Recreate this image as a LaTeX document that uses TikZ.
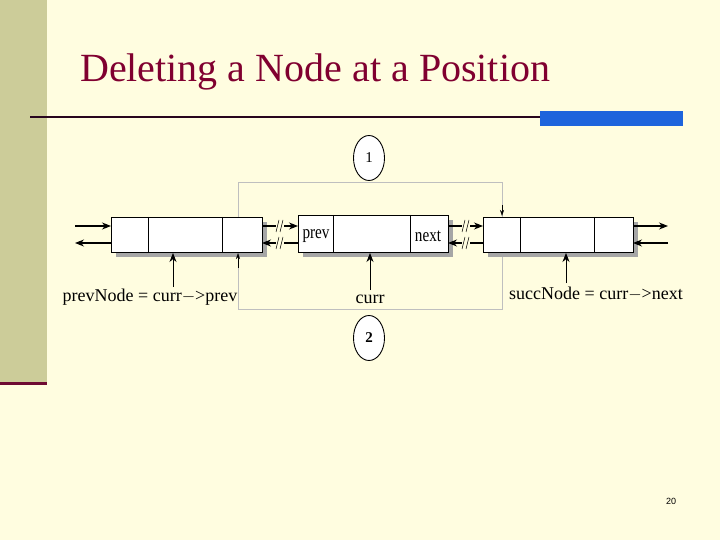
\documentclass[tikz,border=0pt]{standalone}
\usepackage{fontspec}
\setmainfont{Liberation Serif}
\setsansfont{Liberation Sans}
\begin{document}
\begin{tikzpicture}[x=1pt,y=-1pt,
  cell/.style={draw=black,fill=white,line width=0.7pt},
  shad/.style={fill=black!35},
  link/.style={-{Stealth[length=9pt,width=7pt]},line width=1.1pt},
  gline/.style={draw=black!25,line width=0.5pt},
  lbl/.style={font=\fontsize{18}{18}\selectfont,inner sep=0pt},
  circ/.style={ellipse,draw=black,fill=white,line width=0.9pt,minimum width=31pt,minimum height=45pt,inner sep=0pt,font=\fontsize{15}{15}\selectfont}]
\usetikzlibrary{arrows.meta,shapes.geometric}
\fill[yellow!12!white] (0,0) rectangle (720,540);
\useasboundingbox (0,0) rectangle (720,540);
\fill[fill={rgb,255:red,204;green,204;blue,153}] (0,0) rectangle (47,383);
\draw[line width=3pt,draw={rgb,255:red,110;green,10;blue,50}] (0,383) -- (47,383);
\node[anchor=base west,inner sep=0pt,text={rgb,255:red,128;green,0;blue,48},font=\fontsize{40}{40}\selectfont] (title) at (80,82) {Deleting a Node at a Position};
\draw[line width=2.5pt,draw={rgb,255:red,40;green,5;blue,30}] (30,117) -- (540,117);
\fill[fill={rgb,255:red,30;green,100;blue,220}] (540,111) rectangle (683,126);
% gray frame
\draw[gline] (238,217) -- (238,182) -- (502,182) -- (502,309) -- (238,309) -- (238,252);
% boxes
\foreach \n/\xa/\xb/\xc/\xd/\ya/\yb in {L/111/148/222/262/217/252, M/298/333/410/448/215/252, R/483/520/594/633/217/252}{
  \fill[shad] (\xa+5,\ya+5) rectangle (\xd+5,\yb+5);
  \draw[cell] (\xa,\ya) rectangle (\xd,\yb);
  \draw[line width=0.7pt] (\xb,\ya) -- (\xb,\yb) (\xc,\ya) -- (\xc,\yb);
}
\draw[-{Stealth[length=6pt,width=4pt]},line width=0.5pt] (502,205) -- (502,216);
\draw[-{Stealth[length=6pt,width=4pt]},line width=0.5pt] (238,268) -- (238,253);
\node[lbl,font=\fontsize{19}{19}\selectfont,xscale=0.8] (prevtxt) at (316,236) {prev};
\node[lbl,font=\fontsize{19}{19}\selectfont,xscale=0.8] (nexttxt) at (428,236) {next};
% links
\draw[link] (75,226) -- (111,226);
\draw[link] (111,243) -- (75,243);
\draw[link] (262,226) -- (298,226);
\draw[link] (298,243) -- (262,243);
\draw[link] (448,226) -- (483,226);
\draw[link] (483,243) -- (448,243);
\draw[link] (633,226) -- (668,226);
\draw[link] (668,243) -- (633,243);
\foreach \xx in {280,466}{
  \fill[yellow!12!white] (\xx-4,219) rectangle (\xx+4,250);
  \foreach \yy in {226,243}{
    \draw[line width=0.5pt] (\xx-4,\yy+6) -- (\xx-1,\yy-6) (\xx,\yy+6) -- (\xx+3,\yy-6);
  }
}
% labels
\node[lbl] (pn) at (150,297) {prevNode = curr$-$>prev};
\node[lbl] (cu) at (370,299) {curr};
\node[lbl] (sn) at (596,294) {succNode = curr$-$>next};
\draw[link,line width=0.8pt] (173,287) -- (173,253);
\draw[link,line width=0.8pt] (370,290) -- (370,253);
\draw[link,line width=0.8pt] (566,283) -- (566,253);
\node[circ] (c1) at (369,158) {1};
\node[circ] (c2) at (369,338) {\textbf{2}};
\node[font=\sffamily\fontsize{9}{9}\selectfont] (pg) at (671,501) {20};
\end{tikzpicture}
\end{document}
